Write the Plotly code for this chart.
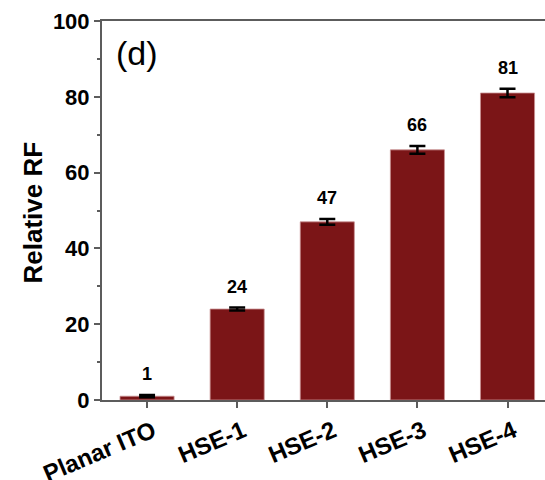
import plotly.graph_objects as go

# Relative RF for each electrode
categories = ["Planar ITO", "HSE-1", "HSE-2", "HSE-3", "HSE-4"]
relative_rf = [1, 24, 47, 66, 81]
rf_error = [0.3, 0.4, 0.75, 1.0, 1.1]
value_labels = ["1", "24", "47", "66", "81"]
y_ticks = [0, 20, 40, 60, 80, 100]

FONT = "Liberation Sans, Arial, sans-serif"
AXIS_GREY = "#5c5c5c"

fig = go.Figure()
fig.add_trace(go.Bar(
    x=categories,
    y=relative_rf,
    width=0.6,
    marker=dict(color="#7b1517", line=dict(color="#c99092", width=0.8)),
    error_y=dict(type="data", array=rf_error, visible=True,
                 color="black", thickness=2.5, width=8),
))

# value labels above each error bar
for cat, val, err, lab in zip(categories, relative_rf, rf_error, value_labels):
    fig.add_annotation(x=cat, y=val + err, text=lab, showarrow=False,
                       yanchor="bottom", yshift=9,
                       font=dict(family=FONT, size=18, color="black", weight="bold"))

# panel tag
fig.add_annotation(xref="paper", yref="paper", x=0, y=1, xshift=12, yshift=-11,
                   xanchor="left", yanchor="top", text="(d)", showarrow=False,
                   font=dict(family=FONT, size=34, color="black"))

# y-axis title
fig.add_annotation(xref="paper", yref="paper", x=0, y=0.5, xshift=-70, yshift=-2,
                   text="Relative RF", textangle=-90, showarrow=False,
                   xanchor="center", yanchor="middle",
                   font=dict(family=FONT, size=26, color="black", weight="bold"))

fig.update_layout(
    width=545, height=480,
    margin=dict(l=102, r=0, t=21, b=80, autoexpand=False),
    plot_bgcolor="white", paper_bgcolor="white",
    showlegend=False,
    xaxis=dict(
        range=[-0.5, 4.416], automargin=False,
        showline=True, linecolor=AXIS_GREY, linewidth=2, mirror=True,
        ticks="outside", ticklen=6, tickwidth=2, tickcolor=AXIS_GREY,
        tickangle=-23, ticklabelshift=6,
        tickfont=dict(family=FONT, size=24, color="black", weight="bold"),
        showgrid=False, zeroline=False,
    ),
    yaxis=dict(
        range=[0, 100], automargin=False,
        tickvals=y_ticks,
        showline=True, linecolor=AXIS_GREY, linewidth=2, mirror=False,
        ticks="outside", ticklen=6, tickwidth=2, tickcolor=AXIS_GREY,
        minor=dict(dtick=10, ticks="outside", ticklen=3, tickwidth=1.5, tickcolor=AXIS_GREY),
        tickfont=dict(family=FONT, size=22, color="black", weight="bold"),
        showgrid=False, zeroline=False,
    ),
)

fig.write_html("out.html")
